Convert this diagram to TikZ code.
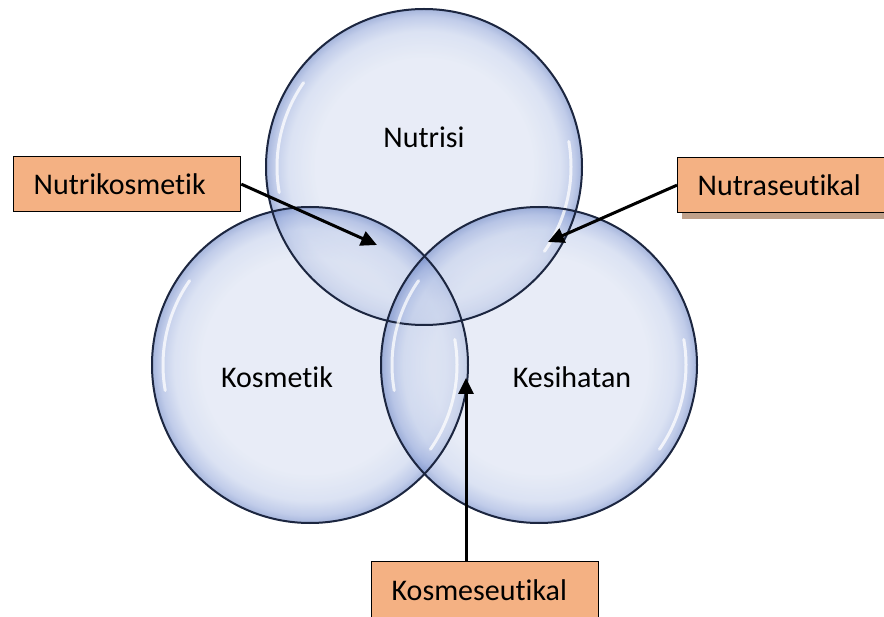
\documentclass[tikz,border=0pt]{standalone}
\usepackage{fontspec}
\setmainfont{Carlito}[Ligatures=NoCommon]
\usepackage{xcolor}
\usepackage{tikz}
\usetikzlibrary{arrows.meta,positioning,shadows}

\definecolor{bubin}{HTML}{D9E0F1}
\definecolor{bubsoft}{HTML}{C3CFEB}
\definecolor{bubmid}{HTML}{97AADB}
\definecolor{bubrim}{HTML}{6A84C4}
\definecolor{ringline}{HTML}{1C2640}
\definecolor{boxfill}{HTML}{F4B183}
\definecolor{shadowfill}{HTML}{BFA08A}

\pgfdeclareradialshading{bubble}{\pgfpoint{0bp}{0bp}}{%
  color(0bp)=(bubin); color(17bp)=(bubin); color(21.5bp)=(bubsoft);
  color(23.8bp)=(bubmid); color(25bp)=(bubrim); color(50bp)=(bubrim)}

\begin{document}
\begin{tikzpicture}[
  x=1pt, y=-1pt,
  font=\fontsize{30}{34}\selectfont,
  bubble/.style={circle, minimum size=316pt, inner sep=0pt, shade, shading=bubble, fill opacity=0.6},
  outline/.style={draw=ringline, line width=2pt},
  shine/.style={white, line width=3pt, opacity=0.75, line cap=round},
  box/.style={draw, fill=boxfill, line width=1.3pt, anchor=north west, align=left,
    minimum height=55pt, text width=187pt, inner xsep=20pt},
  arrow/.style={-{Triangle[length=16pt, width=15pt]}, line width=3pt}
]
  \useasboundingbox (0,0) rectangle (884,617);

  % Circles
  \node[bubble] (nutrisi) at (424,167) {};
  \node[bubble] (kosmetik) at (310,365) {};
  \node[bubble] (kesihatan) at (539,365) {};

  \foreach \c in {nutrisi,kosmetik,kesihatan}{
    \draw[outline] (\c.center) circle (158);
    \draw[shine] ([shift={(170:147)}]\c.center) arc (170:215:147);
    \draw[shine] ([shift={(-10:147)}]\c.center) arc (-10:35:147);
  }

  % Circle labels
  \node (lnut) at (424,137) {Nutrisi};
  \node (lkos) at (277,377) {Kosmetik};
  \node (lkes) at (572,377) {Kesihatan};

  % Boxes
  \node[box] (nk) at (13,156) {Nutrikosmetik};
  \node[box, drop shadow={shadow xshift=4pt, shadow yshift=-6pt, fill=shadowfill, opacity=1}]
    (nt) at (677,157) {Nutraseutikal};
  \node[box, minimum height=58pt] (km) at (371,561) {Kosmeseutikal};

  % Arrow targets
  \coordinate (nkend) at (377,245);
  \coordinate (ntend) at (548,242);
  \coordinate (kmend) at (466,378);

  % Arrows
  \draw[arrow] (nk.east) -- (nkend);
  \draw[arrow] (nt.west) -- (ntend);
  \draw[arrow] (km.north -| kmend) -- (kmend);
\end{tikzpicture}
\end{document}
